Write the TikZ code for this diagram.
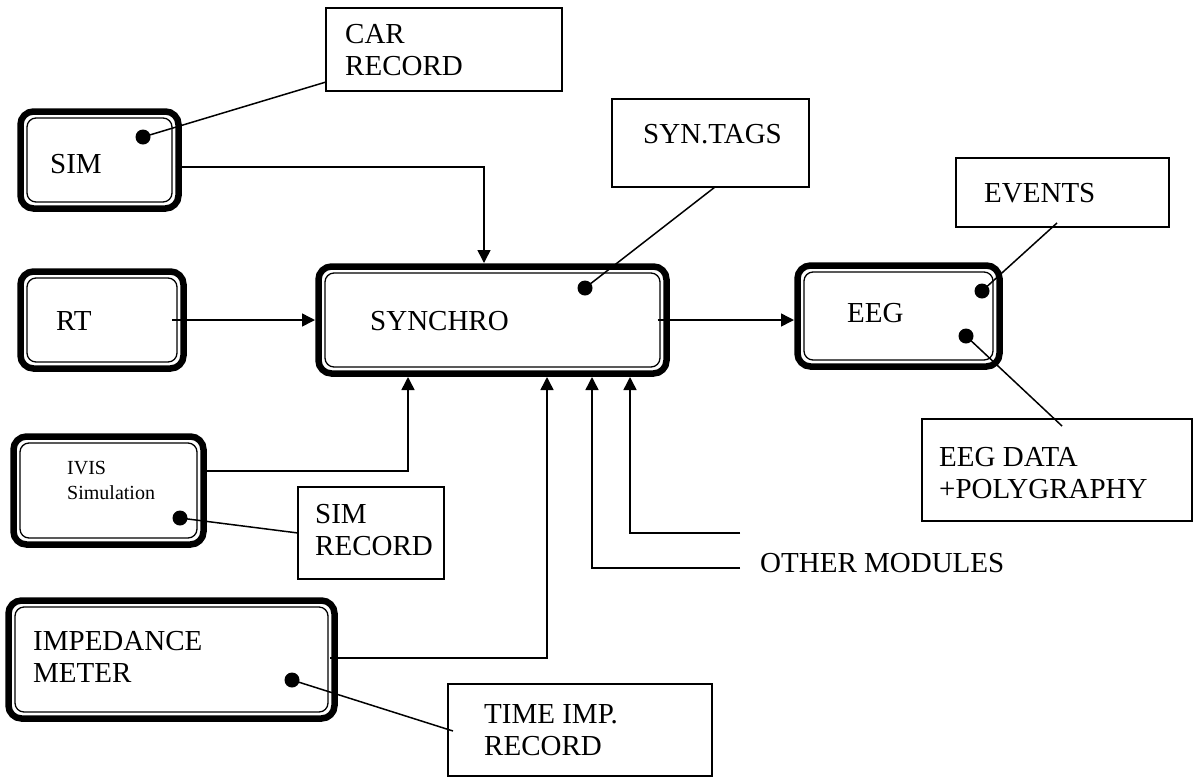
\documentclass[tikz,border=0pt]{standalone}
\usepackage{fontspec}
\setmainfont{Liberation Serif}
\usetikzlibrary{arrows.meta,calc}
\tikzset{
  dbox/.style={draw, line width=6.5pt, rounded corners=13pt, inner sep=0pt, outer sep=0pt, anchor=north west},
  ibox/.style={draw, line width=1.3pt, rounded corners=9pt},
  rbox/.style={draw, line width=2pt, inner sep=0pt, outer sep=0pt, anchor=north west},
  lbl/.style={anchor=base west, inner sep=0pt, align=left, font=\fontsize{29pt}{32pt}\selectfont},
  slbl/.style={anchor=base west, inner sep=0pt, align=left, font=\fontsize{20pt}{25pt}\selectfont},
  conn/.style={line width=1.5pt},
  arr/.style={conn, -{Triangle[length=13pt, width=13pt]}},
  dot/.style={circle, fill, inner sep=0pt, minimum size=15pt},
}

\begin{document}
\begin{tikzpicture}[x=1pt, y=-1pt]
  \useasboundingbox (0,0) rectangle (1197,780);

  % modules with double rounded frame
  \node[dbox, minimum width=158, minimum height=97]  (sim)  at (20.5,111.5) {};
  \node[dbox, minimum width=163, minimum height=97]  (rt)   at (20.5,271.5) {};
  \node[dbox, minimum width=348, minimum height=107] (syn)  at (318.5,266.5) {};
  \node[dbox, minimum width=202, minimum height=101] (eeg)  at (797.5,265.5) {};
  \node[dbox, minimum width=190, minimum height=108] (ivis) at (13.5,436.5) {};
  \node[dbox, minimum width=326, minimum height=118] (imp)  at (8.5,600.5) {};
  \foreach \b in {sim,rt,syn,eeg,ivis,imp}
    \draw[ibox] ([shift={(6.5,6.5)}]\b.north west) rectangle ([shift={(-6.5,-6.5)}]\b.south east);

  % record boxes
  \node[rbox, minimum width=236, minimum height=83]  (car)    at (326,8) {};
  \node[rbox, minimum width=197, minimum height=88]  (tags)   at (612,99) {};
  \node[rbox, minimum width=213, minimum height=69]  (events) at (956,158) {};
  \node[rbox, minimum width=270, minimum height=102] (eegdat) at (922,419) {};
  \node[rbox, minimum width=146, minimum height=92]  (simrec) at (298,487) {};
  \node[rbox, minimum width=264, minimum height=92]  (timp)   at (448,684) {};

  % texts (base = last line)
  \node[lbl] (sim-l)  at (50,173)  {SIM};
  \node[lbl] (rt-l)   at (56,330)  {RT};
  \node[lbl] (syn-l)  at (370,330) {SYNCHRO};
  \node[lbl] (eeg-l)  at (847,322) {EEG};
  \node[slbl] (ivis-l) at (67,499) {IVIS\\Simulation};
  \node[lbl] (imp-l)  at (33,682)  {IMPEDANCE\\METER};
  \node[lbl] (car-l)  at (345,75)  {CAR\\RECORD};
  \node[lbl] (tags-l) at (643,143) {SYN.TAGS};
  \node[lbl] (ev-l)   at (984,202) {EVENTS};
  \node[lbl] (dat-l)  at (939,498) {EEG DATA\\+POLYGRAPHY};
  \node[lbl] (rec-l)  at (315,555) {SIM\\RECORD};
  \node[lbl] (timp-l) at (484,755) {TIME IMP.\\RECORD};
  \node[lbl] (om)     at (760,572) {OTHER MODULES};

  % data flow into and out of the synchroniser
  \draw[arr] ($(sim.east)+(-3,7)$) -| ($(syn.north west)+(165.5,-3.5)$);
  \draw[arr] ($(rt.east)+(-11.5,0)$) -- ($(syn.west)+(-3.5,0)$);
  \draw[arr] ($(syn.east)+(-9,0)$) -- ($(eeg.west)+(-3.5,4)$);
  \draw[arr] ($(ivis.east)+(3.5,-19.5)$) -| ($(syn.south west)+(89.5,3.5)$);
  \draw[arr] ($(imp.east)+(-4.5,-1.5)$) -| ($(syn.south west)+(228.5,3.5)$);
  \coordinate (om1) at ($(om.base west)+(-20,-4)$);
  \coordinate (om2) at ($(om.base west)+(-20,-39)$);
  \draw[arr] (om1) -| ($(syn.south west)+(273.5,3.5)$);
  \draw[arr] (om2) -| ($(syn.south west)+(311.5,3.5)$);

  % record pins
  \node[dot] (sim-d)  at (143,137) {};
  \node[dot] (syn-d)  at (585,288) {};
  \node[dot] (eeg-d1) at (982,291) {};
  \node[dot] (eeg-d2) at (966,336) {};
  \node[dot] (ivis-d) at (180,518) {};
  \node[dot] (imp-d)  at (292,680) {};
  \draw[conn] (sim-d.center)  -- ($(car.south west)+(0,-9)$);
  \draw[conn] (syn-d.center)  -- ($(tags.south west)+(103,0)$);
  \draw[conn] (eeg-d1.center) -- ($(events.south west)+(101,-4)$);
  \draw[conn] (eeg-d2.center) -- ($(eegdat.north west)+(140,7)$);
  \draw[conn] (ivis-d.center) -- ($(simrec.north west)+(0,46)$);
  \draw[conn] (imp-d.center)  -- ($(timp.north west)+(5,47)$);
\end{tikzpicture}
\end{document}
